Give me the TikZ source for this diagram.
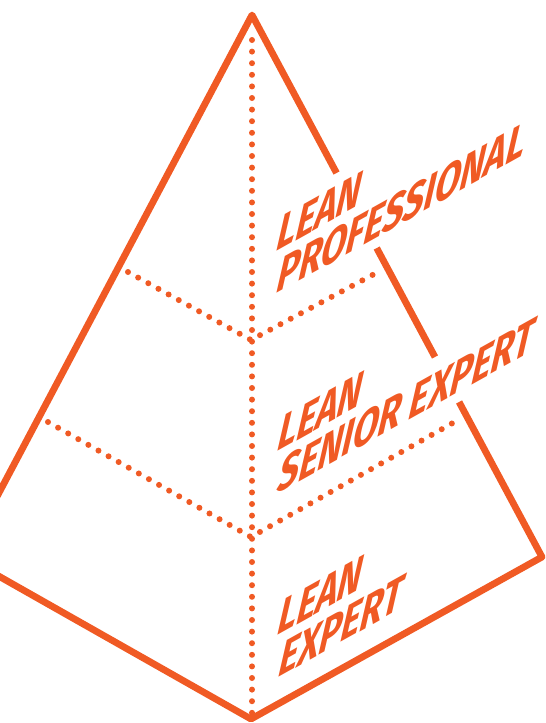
\documentclass[tikz,border=0pt]{standalone}
\usepackage{fontspec}
\usepackage{xcolor}
\usepackage{tikz}
\usetikzlibrary{calc}
\newfontfamily\levelfont{Fira Sans}
\definecolor{leanorange}{RGB}{240,90,36}

\begin{document}
\begin{tikzpicture}[x=0.5pt,y=-0.5pt,
  edge/.style={leanorange, line width=3.4pt, line join=round},
  dots/.style={leanorange, line width=3pt, line cap=round, dash pattern=on 0pt off 5.8pt},
  level/.style={leanorange, anchor=base west, inner sep=0pt,
    font=\levelfont\bfseries\fontsize{26.5}{26.5}\selectfont,
    cm={0.69,0.386,0.23,1,(0,0)}}]
\useasboundingbox (0,0) rectangle (546,723);
\clip (0,0) rectangle (546,723);

\coordinate (apex) at (252,15);
\coordinate (bottom) at (251,719);
\coordinate (right) at (542,557);
\coordinate (left) at (-35,557);

% outline, the right edge is cut where the labels cross it
\draw[edge] ($(apex)!0.2915!(right)$) -- (apex) -- (left) -- (bottom) -- (right)
  -- ($(apex)!0.714!(right)$);
\draw[edge] ($(apex)!0.43!(right)$) -- ($(apex)!0.631!(right)$);

% levels
\coordinate (top) at (252,40);
\coordinate (foot) at (252,713);
\draw[dots] (top) -- (foot);
\draw[dots] (128,272) -- (251,340) -- (378,272);
\draw[dots] (48,422) -- (251,537) -- (458,420);

\node[level] (pro1) at (274,253) {LEAN};
\node[level] (pro2) at (274,295) {PROFESSIONAL};
\node[level] (sen1) at (275,453) {LEAN};
\node[level] (sen2) at (275,495) {SENIOR EXPERT};
\node[level] (exp1) at (275,637) {LEAN};
\node[level] (exp2) at (276,679) {EXPERT};
\end{tikzpicture}
\end{document}
